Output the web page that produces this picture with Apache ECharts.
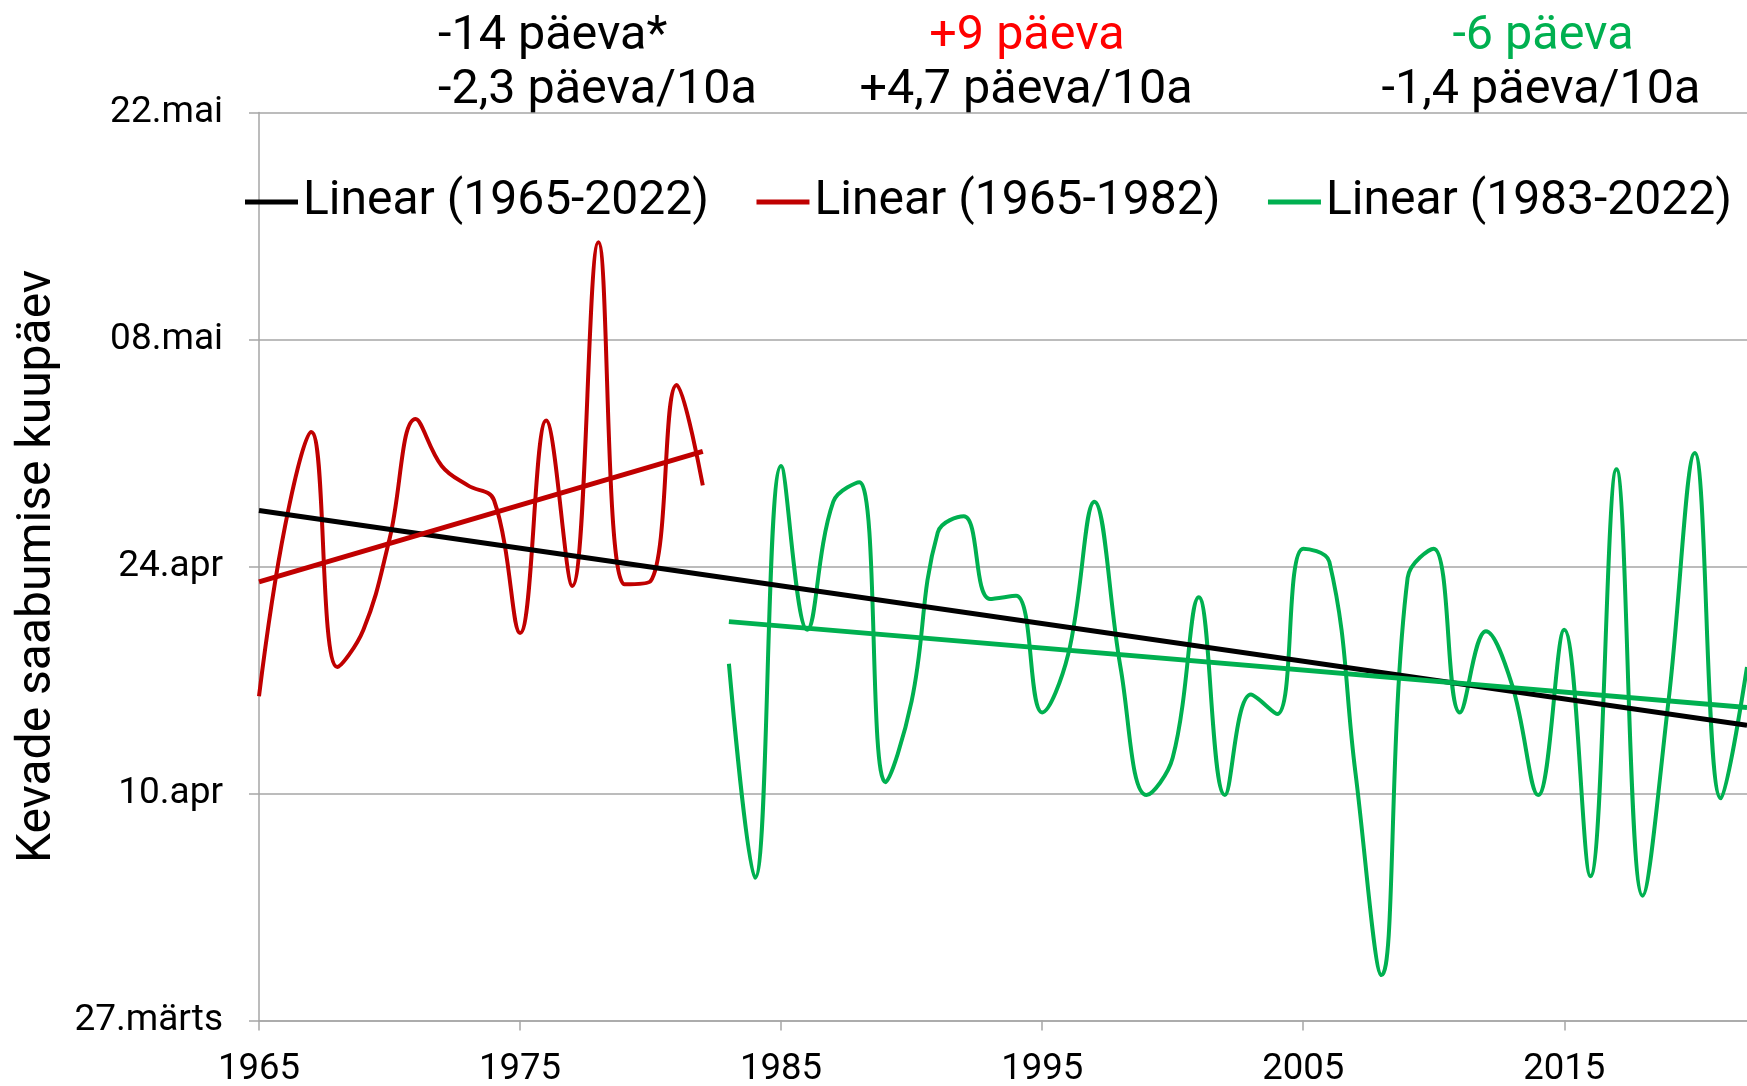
<!DOCTYPE html>
<html>
<head>
<meta charset="utf-8">
<script src="https://cdn.jsdelivr.net/npm/echarts@6/dist/echarts.min.js"></script>
<style>
  html, body { margin: 0; padding: 0; background: #fff; }
  #chart { width: 1747px; height: 1086px; }
</style>
</head>
<body>
<div id="chart"></div>
<script>
// ---- Data (day of year: 86 = 27.märts, 100 = 10.apr, 114 = 24.apr, 128 = 08.mai, 142 = 22.mai)
const firstYear = 1965;
const lastYear = 2022;

const redYears = [1965,1966,1967,1968,1969,1970,1971,1972,1973,1974,1975,1976,1977,1978,1979,1980,1981,1982];
const redValues = [106.0,116.5,122.3,107.8,110.1,115.7,123.1,120.2,119.0,118.1,109.9,123.0,112.8,134.0,112.9,113.1,125.2,119.0];

const greenYears = [1983,1984,1985,1986,1987,1988,1989,1990,1991,1992,1993,1994,1995,1996,1997,1998,1999,2000,2001,2002,
                    2003,2004,2005,2006,2007,2008,2009,2010,2011,2012,2013,2014,2015,2016,2017,2018,2019,2020,2021,2022];
const greenValues = [108.0,94.8,120.2,110.1,118.0,119.2,100.7,105.7,116.1,117.1,112.0,112.2,105.0,108.6,118.0,107.8,99.9,102.2,112.1,99.9,
                     106.1,104.9,115.1,114.3,101.3,88.8,113.3,115.1,105.0,110.0,106.7,99.9,110.1,94.9,120.0,93.7,105.8,121.0,99.7,107.8];

// Trend lines: [start year, end year] and [start value, end value]
const trendAllYears = [1965, 2022];
const trendAllValues = [117.45, 104.2];
const trendRedYears = [1965, 1982];
const trendRedValues = [113.05, 121.1];
const trendGreenYears = [1983, 2022];
const trendGreenValues = [110.6, 105.3];

const yTickLabels = ['27.märts', '10.apr', '24.apr', '08.mai', '22.mai'];
const yBase = 86;   // 27.märts
const yStep = 14;

const legendNames = ['Linear (1965-2022)', 'Linear (1965-1982)', 'Linear (1983-2022)'];

// ---- Build category axis and series arrays
const years = [];
for (let y = firstYear; y <= lastYear; y++) years.push(String(y));

function toSeries(ys, vs) {
  const arr = years.map(() => null);
  ys.forEach((y, i) => { arr[y - firstYear] = +(vs[i] - yBase).toFixed(3); });
  return arr;
}

const FONT = 'Roboto';
const RED = '#C00000';
const GREEN = '#00B050';
const GRID = '#A6A6A6';
const TOP_FS = 48.5;

const chart = echarts.init(document.getElementById('chart'), null, { renderer: 'canvas' });

chart.setOption({
  animation: false,
  backgroundColor: '#ffffff',
  grid: { left: 259, right: 0, top: 112.5, bottom: 65.5, containLabel: false, outerBoundsMode: 'none' },
  legend: {
    data: legendNames,
    left: 245,
    top: 178,
    padding: 0,
    icon: 'rect',
    itemWidth: 53,
    itemHeight: 5,
    itemGap: 47.5,
    textStyle: { fontSize: 48, fontFamily: FONT, color: '#000' }
  },
  graphic: [
    { type: 'text', x: 438, y: 36.5, style: { text: '-14 päeva*', fill: '#000', fontSize: TOP_FS, fontFamily: FONT, align: 'left', verticalAlign: 'middle' } },
    { type: 'text', x: 438, y: 90.5, style: { text: '-2,3 päeva/10a', fill: '#000', fontSize: TOP_FS, fontFamily: FONT, align: 'left', verticalAlign: 'middle' } },
    { type: 'text', x: 1027, y: 36.5, style: { text: '+9 päeva', fill: '#FF0000', fontSize: TOP_FS, fontFamily: FONT, align: 'center', verticalAlign: 'middle' } },
    { type: 'text', x: 1026, y: 90.5, style: { text: '+4,7 päeva/10a', fill: '#000', fontSize: TOP_FS, fontFamily: FONT, align: 'center', verticalAlign: 'middle' } },
    { type: 'text', x: 1543, y: 36.5, style: { text: '-6 päeva', fill: GREEN, fontSize: TOP_FS, fontFamily: FONT, align: 'center', verticalAlign: 'middle' } },
    { type: 'text', x: 1541, y: 90.5, style: { text: '-1,4 päeva/10a', fill: '#000', fontSize: TOP_FS, fontFamily: FONT, align: 'center', verticalAlign: 'middle' } }
  ],
  xAxis: {
    type: 'category',
    data: years,
    boundaryGap: false,
    axisLine: { show: true, lineStyle: { color: GRID, width: 1.5 } },
    axisTick: { show: true, interval: 9, length: 10, lineStyle: { color: GRID, width: 1.5 } },
    axisLabel: { interval: 9, margin: 31, fontSize: 36.5, fontFamily: FONT, color: '#000' },
    splitLine: { show: false }
  },
  yAxis: {
    type: 'value',
    min: 0,
    max: (yTickLabels.length - 1) * yStep,
    interval: yStep,
    name: 'Kevade saabumise kuupäev',
    nameLocation: 'middle',
    nameRotate: 90,
    nameGap: 197,
    nameTextStyle: { fontSize: 48, fontFamily: FONT, color: '#000' },
    axisLine: { show: true, lineStyle: { color: GRID, width: 1.5 } },
    axisTick: { show: true, length: 10, lineStyle: { color: GRID, width: 1.5 } },
    axisLabel: {
      margin: 36, fontSize: 37, fontFamily: FONT, color: '#000',
      formatter: v => yTickLabels[Math.round(v / yStep)]
    },
    splitLine: { show: true, lineStyle: { color: GRID, width: 1.5 } }
  },
  series: [
    {
      name: 'Andmed 1965-1982', type: 'line', data: toSeries(redYears, redValues),
      smooth: 0.4, symbol: 'none', connectNulls: false,
      lineStyle: { color: RED, width: 4 }, itemStyle: { color: RED }, z: 2
    },
    {
      name: 'Andmed 1983-2022', type: 'line', data: toSeries(greenYears, greenValues),
      smooth: 0.4, symbol: 'none', connectNulls: false,
      lineStyle: { color: GREEN, width: 4 }, itemStyle: { color: GREEN }, z: 2
    },
    {
      name: legendNames[0], type: 'line', data: toSeries(trendAllYears, trendAllValues),
      symbol: 'none', connectNulls: true,
      lineStyle: { color: '#000', width: 5 }, itemStyle: { color: '#000' }, z: 3
    },
    {
      name: legendNames[1], type: 'line', data: toSeries(trendRedYears, trendRedValues),
      symbol: 'none', connectNulls: true,
      lineStyle: { color: RED, width: 5 }, itemStyle: { color: RED }, z: 4
    },
    {
      name: legendNames[2], type: 'line', data: toSeries(trendGreenYears, trendGreenValues),
      symbol: 'none', connectNulls: true,
      lineStyle: { color: GREEN, width: 5 }, itemStyle: { color: GREEN }, z: 4
    }
  ]
});
</script>
</body>
</html>
